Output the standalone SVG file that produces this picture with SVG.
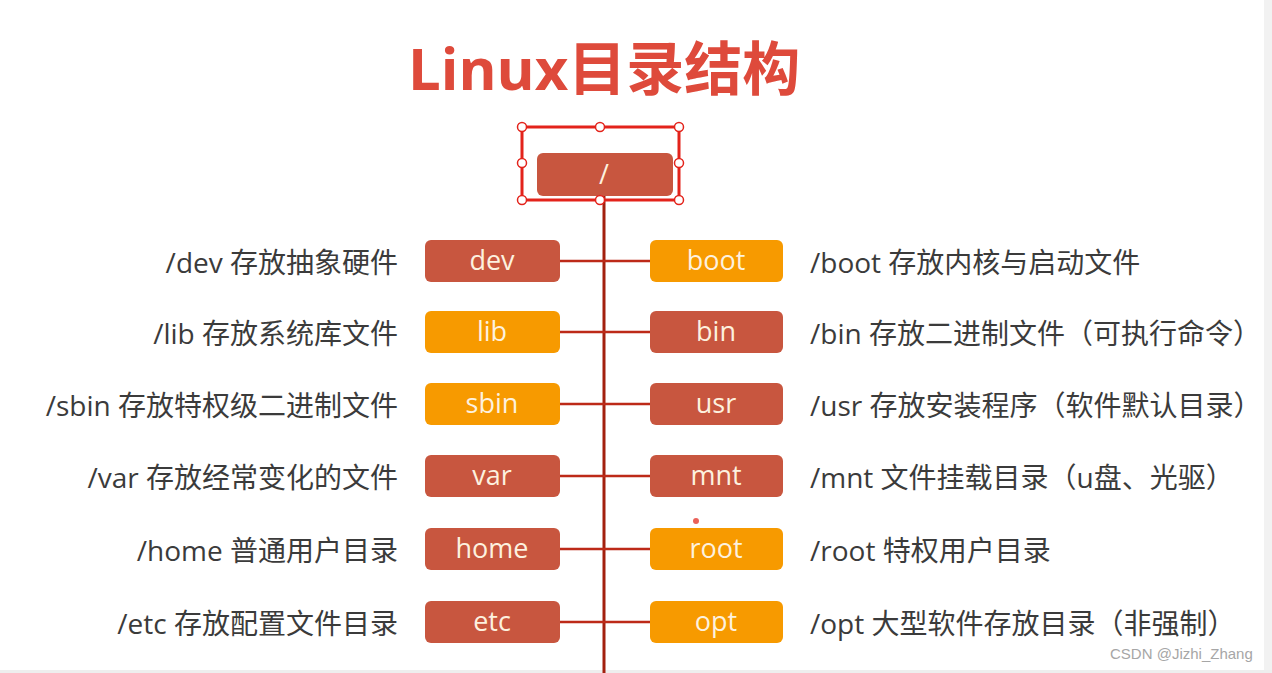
<svg xmlns="http://www.w3.org/2000/svg" width="1272" height="673" viewBox="0 0 1272 673">
<style>
.title{font-family:"Open Sans","Noto Sans CJK SC",sans-serif;font-weight:700;font-size:58px;fill:#de4a3b}
.dark{fill:#c8563f}
.orange{fill:#f79a00}
.bt{font-family:"Open Sans","Noto Sans CJK SC",sans-serif;font-size:27px;fill:#fdf1df;text-anchor:middle}
.ll{font-family:"Open Sans","Noto Sans CJK SC",sans-serif;font-size:28px;fill:#3b3b3b;text-anchor:end}
.rl{font-family:"Open Sans","Noto Sans CJK SC",sans-serif;font-size:28px;fill:#3b3b3b}
.conn{stroke:#bd2a18;stroke-width:2.5;fill:none}
.trunk{stroke:#a3200e;stroke-width:3;fill:none}
.handle{fill:#fff;stroke:#e3231b;stroke-width:1.5}
.wm{font-family:"Liberation Sans","Noto Sans CJK SC",sans-serif;font-size:15px;fill:#a6a6a6}
</style>
<rect x="0" y="0" width="1272" height="673" fill="#ffffff"/>
<rect x="1264" y="0" width="8" height="673" fill="#f2f2f2"/>
<rect x="0" y="670" width="1272" height="3" fill="#eeeeee"/>
<text class="title" x="408" y="90">Linux目录结构</text>
<g id="connectors">
<line class="trunk" x1="604" y1="196" x2="604" y2="673"/>
<line class="conn" x1="560" y1="261" x2="650" y2="261"/>
<line class="conn" x1="560" y1="332" x2="650" y2="332"/>
<line class="conn" x1="560" y1="404" x2="650" y2="404"/>
<line class="conn" x1="560" y1="476" x2="650" y2="476"/>
<line class="conn" x1="560" y1="549" x2="650" y2="549"/>
<line class="conn" x1="560" y1="622" x2="650" y2="622"/>
</g>
<g id="root">
<rect class="dark" x="537" y="153" width="136" height="43" rx="6"/>
<text class="bt" x="604" y="184">/</text>
<rect x="522" y="127" width="157" height="73" fill="none" stroke="#e3231b" stroke-width="3"/>
<circle class="handle" cx="522" cy="127" r="4.5"/>
<circle class="handle" cx="600" cy="127" r="4.5"/>
<circle class="handle" cx="679" cy="127" r="4.5"/>
<circle class="handle" cx="522" cy="163" r="4.5"/>
<circle class="handle" cx="679" cy="163" r="4.5"/>
<circle class="handle" cx="522" cy="200" r="4.5"/>
<circle class="handle" cx="600" cy="200" r="4.5"/>
<circle class="handle" cx="679" cy="200" r="4.5"/>
</g>
<g id="dev"><rect class="dark" x="425" y="240" width="135" height="42" rx="6"/><text class="bt" x="492" y="270">dev</text><text class="ll" x="398" y="273">/dev 存放抽象硬件</text></g>
<g id="lib"><rect class="orange" x="425" y="311" width="135" height="42" rx="6"/><text class="bt" x="492" y="341">lib</text><text class="ll" x="398" y="344">/lib 存放系统库文件</text></g>
<g id="sbin"><rect class="orange" x="425" y="383" width="135" height="42" rx="6"/><text class="bt" x="492" y="413">sbin</text><text class="ll" x="398" y="416">/sbin 存放特权级二进制文件</text></g>
<g id="var"><rect class="dark" x="425" y="455" width="135" height="42" rx="6"/><text class="bt" x="492" y="485">var</text><text class="ll" x="398" y="488">/var 存放经常变化的文件</text></g>
<g id="home"><rect class="dark" x="425" y="528" width="135" height="42" rx="6"/><text class="bt" x="492" y="558">home</text><text class="ll" x="398" y="561">/home 普通用户目录</text></g>
<g id="etc"><rect class="dark" x="425" y="601" width="135" height="42" rx="6"/><text class="bt" x="492" y="631">etc</text><text class="ll" x="398" y="634">/etc 存放配置文件目录</text></g>
<g id="boot"><rect class="orange" x="650" y="240" width="133" height="42" rx="6"/><text class="bt" x="716" y="270">boot</text><text class="rl" x="810" y="273">/boot 存放内核与启动文件</text></g>
<g id="bin"><rect class="dark" x="650" y="311" width="133" height="42" rx="6"/><text class="bt" x="716" y="341">bin</text><text class="rl" x="810" y="344">/bin 存放二进制文件（可执行命令）</text></g>
<g id="usr"><rect class="dark" x="650" y="383" width="133" height="42" rx="6"/><text class="bt" x="716" y="413">usr</text><text class="rl" x="810" y="416">/usr 存放安装程序（软件默认目录）</text></g>
<g id="mnt"><rect class="dark" x="650" y="455" width="133" height="42" rx="6"/><text class="bt" x="716" y="485">mnt</text><text class="rl" x="810" y="488">/mnt 文件挂载目录（u盘、光驱）</text></g>
<g id="root-dir"><rect class="orange" x="650" y="528" width="133" height="42" rx="6"/><text class="bt" x="716" y="558">root</text><text class="rl" x="810" y="561">/root 特权用户目录</text></g>
<g id="opt"><rect class="orange" x="650" y="601" width="133" height="42" rx="6"/><text class="bt" x="716" y="631">opt</text><text class="rl" x="810" y="634">/opt 大型软件存放目录（非强制）</text></g>
<circle cx="696" cy="521" r="3" fill="#e53a30" opacity="0.8"/>
<text class="wm" x="1110" y="659">CSDN @Jizhi_Zhang</text>
</svg>
